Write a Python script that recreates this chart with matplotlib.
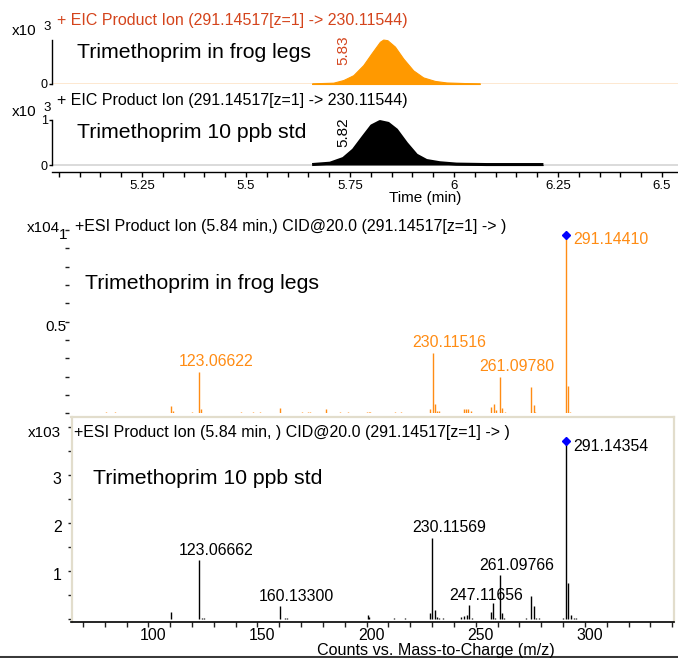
import matplotlib
matplotlib.use('Agg')
import matplotlib.pyplot as plt
from matplotlib.ticker import MultipleLocator, FuncFormatter

plt.rcParams['font.family'] = ['Liberation Sans', 'DejaVu Sans']

W, H = 678, 658
PT = 0.72  # points per pixel at 100 dpi

# EIC chromatograms, counts x10^3
frog_time = [5.659, 5.710, 5.734, 5.758, 5.782, 5.802, 5.822, 5.830, 5.840, 5.858,
             5.878, 5.902, 5.926, 5.954, 5.982, 6.030, 6.062]
frog_eic = [0.015, 0.03, 0.09, 0.20, 0.43, 0.70, 0.96, 1.01, 0.995, 0.85,
            0.58, 0.31, 0.15, 0.07, 0.035, 0.02, 0.015]
std_time = [5.659, 5.702, 5.734, 5.758, 5.782, 5.802, 5.822, 5.842, 5.862, 5.886,
            5.910, 5.934, 5.966, 6.006, 6.078, 6.215]
std_eic = [0.01, 0.04, 0.145, 0.335, 0.63, 0.87, 0.965, 0.925, 0.78, 0.48,
           0.22, 0.10, 0.05, 0.02, 0.01, 0.01]

# product ion spectra
frog_mz = [80.6, 84.7, 110.2, 110.9, 119.9, 123.06622, 123.8, 142.3, 147.6, 150.9,
           160.0, 170.1, 173.2, 174.1, 181.1, 187.5, 191.2, 200.1, 200.8, 201.6,
           212.7, 215.8, 228.8, 230.11516, 231.1, 232.2, 232.9, 244.7, 245.5, 246.2,
           247.8, 256.9, 258.1, 259.1, 261.09780, 261.8, 263.1, 275.1, 276.5, 277.3,
           291.14410, 292.1, 293.0]
frog_counts = [0.009, 0.005, 0.042, 0.01, 0.005, 0.227, 0.022, 0.005, 0.005, 0.005,
               0.031, 0.005, 0.006, 0.006, 0.022, 0.005, 0.005, 0.006, 0.008, 0.006,
               0.005, 0.005, 0.022, 0.33, 0.051, 0.015, 0.015, 0.025, 0.025, 0.025,
               0.01, 0.033, 0.051, 0.018, 0.20, 0.029, 0.006, 0.142, 0.045, 0.008,
               0.973, 0.149, 0.008]  # x10^4
std_mz = [110.2, 123.06662, 124.6, 125.5, 135.9, 144.3, 145.8, 160.13300, 162.6, 163.7,
          181.4, 182.2, 200.8, 201.3, 212.7, 217.8, 228.8, 230.11569, 231.1, 232.2,
          233.1, 235.2, 243.2, 244.7, 246.2, 247.11656, 248.2, 257.1, 258.1, 259.0,
          261.09766, 261.8, 263.1, 273.0, 275.1, 276.5, 277.4, 279.1, 283.8, 285.6,
          289.9, 291.14354, 292.1, 293.5, 294.8, 295.7, 297.3, 299.4]
std_counts = [0.16, 1.23, 0.02, 0.02, 0.015, 0.015, 0.015, 0.27, 0.02, 0.02,
              0.015, 0.015, 0.10, 0.04, 0.02, 0.02, 0.13, 1.70, 0.19, 0.04,
              0.03, 0.02, 0.05, 0.07, 0.09, 0.29, 0.03, 0.15, 0.35, 0.03,
              0.92, 0.14, 0.03, 0.02, 0.48, 0.27, 0.03, 0.02, 0.015, 0.015,
              0.02, 3.67, 0.75, 0.10, 0.02, 0.02, 0.015, 0.015]  # x10^3

frog_labeled = [123.06622, 230.11516, 261.09780]
frog_base = 291.14410
std_labeled = [123.06662, 160.13300, 230.11569, 247.11656, 261.09766]
std_base = 291.14354

red = '#d4441c'
orange = '#ff9900'
orange_ms = '#ff8c14'
tlim = (5.0337, 6.5385)
mzlim = (64.8, 340.8)

fig = plt.figure(figsize=(W / 100, H / 100), dpi=100)


def px_axes(x0, y0, x1, y1):
    ax = fig.add_axes([x0 / W, 1 - y1 / H, (x1 - x0) / W, (y1 - y0) / H])
    ax.patch.set_alpha(0)
    return ax


def px_text(x, y, s, **kw):
    kw.setdefault('va', 'center')
    fig.text(x / W, 1 - y / H, s, **kw)


# ---- chromatogram: frog legs ----
ax1 = px_axes(52, 40, 678, 84)
ax1.set_xlim(tlim)
ax1.set_ylim(0, 1)
ax1.axhline(0, color='#fde4c8', lw=1.2, zorder=1)
ax1.fill_between(frog_time, frog_eic, color=orange, lw=0.8, edgecolor=orange, zorder=2, clip_on=False)
for s in ['top', 'right', 'bottom']:
    ax1.spines[s].set_visible(False)
ax1.spines['left'].set_linewidth(1)
ax1.set_xticks([])
ax1.set_yticks([0])
ax1.tick_params(axis='y', length=3 * PT, width=1, labelsize=9, pad=1)
ax1.text(5.733, 0.77, '5.83', rotation=90, color=red, fontsize=11,
         ha='center', va='center')

# ---- chromatogram: 10 ppb std ----
ax2 = px_axes(52, 120, 678, 172)
ax2.set_xlim(tlim)
ax2.set_ylim(-7 / 45, 1)
ax2.axhline(0, color='#d4d4d4', lw=1.2, zorder=1)
ax2.fill_between(std_time, std_eic, color='black', lw=0, zorder=2)
ax2.plot(std_time, std_eic, color='black', lw=2.2, solid_capstyle='butt', zorder=3)
for s in ['top', 'right']:
    ax2.spines[s].set_visible(False)
ax2.spines['left'].set_bounds(0, 1)
ax2.spines['left'].set_linewidth(1)
ax2.spines['bottom'].set_linewidth(1)
ax2.set_yticks([0, 1])
ax2.yaxis.set_major_formatter(FuncFormatter(lambda v, p: '%g' % v))
ax2.tick_params(axis='y', length=3 * PT, width=1, labelsize=9, pad=1)
ax2.xaxis.set_major_locator(MultipleLocator(0.05))
ax2.xaxis.set_major_formatter(FuncFormatter(
    lambda v, p: ('%g' % round(v, 2)) if abs(v * 4 - round(v * 4)) < 1e-6 else ''))
ax2.tick_params(axis='x', length=5 * PT, width=1, labelsize=9.5, pad=2)
ax2.text(5.733, 0.74, '5.82', rotation=90, color='black', fontsize=11,
         ha='center', va='center')

# chromatogram texts
px_text(57, 21, '+ EIC Product Ion (291.14517[z=1] -> 230.11544)', color=red, fontsize=11.5)
px_text(57, 101, '+ EIC Product Ion (291.14517[z=1] -> 230.11544)', color='black', fontsize=11.5)
for yy in (31, 112):
    px_text(12, yy, 'x10', fontsize=11)
    px_text(43, yy - 4, '3', fontsize=9.5)
px_text(77, 53, 'Trimethoprim in frog legs', fontsize=15.3)
px_text(77, 133, 'Trimethoprim 10 ppb std', fontsize=15.3)
px_text(425, 198, 'Time (min)', fontsize=11, ha='center')

# ---- spectrum: frog legs ----
ax3 = px_axes(72, 230, 674, 413.3)
ax3.set_xlim(mzlim)
ax3.set_ylim(0, 1)
ax3.vlines(frog_mz, 0, frog_counts, color=orange_ms, lw=1)
for s in ax3.spines.values():
    s.set_visible(False)
ax3.spines['left'].set_position(('outward', 2))
ax3.set_xticks([])
ax3.yaxis.set_major_locator(MultipleLocator(0.1))
ax3.set_yticklabels([])
ax3.tick_params(axis='y', length=4 * PT, width=1, color='#202020')
for v, s in [(0.5, '0.5'), (1.0, '1')]:
    ax3.annotate(s, xy=(0, v), xycoords=('axes fraction', 'data'),
                 xytext=(-5 * PT, -5 * PT), textcoords='offset points',
                 ha='right', va='center', fontsize=11)
for m in frog_labeled:
    c = frog_counts[frog_mz.index(m)]
    ax3.annotate('%.5f' % m, xy=(m, c), xytext=(17 * PT, 10 * PT), textcoords='offset points',
                 ha='center', va='center', color=orange_ms, fontsize=11.4)
cb = frog_counts[frog_mz.index(frog_base)]
ax3.plot(frog_base, cb, marker='D', ms=3.6, color='#0000ff', clip_on=False)
ax3.annotate('%.5f' % frog_base, xy=(frog_base, cb), xytext=(8 * PT, -5 * PT),
             textcoords='offset points', ha='left', va='center', color=orange_ms, fontsize=11.4)
px_text(27, 228, 'x104', fontsize=11)
px_text(75, 226, '+ESI Product Ion (5.84 min,) CID@20.0 (291.14517[z=1] -> )', fontsize=11.5)
px_text(85, 283, 'Trimethoprim in frog legs', fontsize=15.3)

# ---- spectrum: 10 ppb std ----
ax4 = px_axes(71.5, 417, 674, 622)
ax4.set_xlim(mzlim)
ax4.set_ylim(-2.7 / 48, 202.3 / 48)
ax4.vlines(std_mz, 0, std_counts, color='black', lw=1)
for s in ['top', 'right', 'left']:
    ax4.spines[s].set_color('#e2ddcc')
    ax4.spines[s].set_linewidth(1.6)
ax4.spines['bottom'].set_color('black')
ax4.spines['bottom'].set_linewidth(1.2)
ax4.yaxis.set_major_locator(MultipleLocator(0.5))
ax4.set_yticklabels([])
ax4.tick_params(axis='y', length=4 * PT, width=1, color='#202020', pad=3)
for v in (1, 2, 3):
    ax4.annotate(str(v), xy=(0, v), xycoords=('axes fraction', 'data'),
                 xytext=(-10 * PT, -4 * PT), textcoords='offset points',
                 ha='right', va='center', fontsize=11.4)
ax4.xaxis.set_major_locator(MultipleLocator(10))
ax4.set_xticklabels([])
ax4.tick_params(axis='x', length=5 * PT, width=1, color='#202020')
for v in (100, 150, 200, 250, 300):
    ax4.annotate(str(v), xy=(v, 0), xycoords=('data', 'axes fraction'),
                 xytext=(5 * PT, -14 * PT), textcoords='offset points',
                 ha='center', va='center', fontsize=11.4)
for m in std_labeled:
    c = std_counts[std_mz.index(m)]
    ax4.annotate('%.5f' % m, xy=(m, c), xytext=(17 * PT, 10 * PT), textcoords='offset points',
                 ha='center', va='center', color='black', fontsize=11.4)
cb = std_counts[std_mz.index(std_base)]
ax4.plot(std_base, cb + 0.05, marker='D', ms=3.6, color='#0000ff', clip_on=False)
ax4.annotate('%.5f' % std_base, xy=(std_base, cb), xytext=(8 * PT, -3 * PT),
             textcoords='offset points', ha='left', va='center', color='black', fontsize=11.4)
px_text(28, 433, 'x103', fontsize=11)
px_text(74, 433, '+ESI Product Ion (5.84 min, ) CID@20.0 (291.14517[z=1] -> )', fontsize=11.5)
px_text(93, 478, 'Trimethoprim 10 ppb std', fontsize=15.3)
px_text(436, 651, 'Counts vs. Mass-to-Charge (m/z)', fontsize=11.6, ha='center')

# dark bar at the bottom edge
fig.add_artist(plt.Line2D([0, 1], [1 - 657 / H, 1 - 657 / H], color='#3a3a3a', lw=2.2))

fig.savefig('out.png', dpi=100)
